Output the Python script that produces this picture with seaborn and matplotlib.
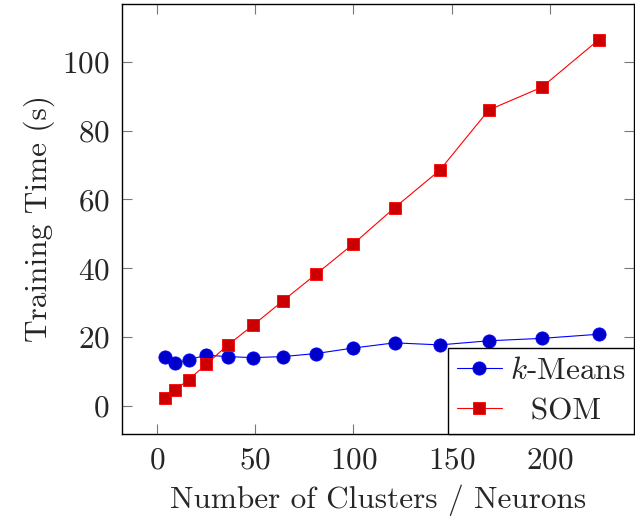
import matplotlib
matplotlib.use("Agg")
import matplotlib.pyplot as plt
import seaborn as sns
import pandas as pd
from matplotlib.ticker import MultipleLocator

# Data
n_clusters = [4, 9, 16, 25, 36, 49, 64, 81, 100, 121, 144, 169, 196, 225]
kmeans_time = [14.2, 12.4, 13.4, 14.7, 14.3, 14.0, 14.3, 15.2, 16.8, 18.3, 17.7, 18.9, 19.6, 20.8]
som_time = [2.2, 4.6, 7.6, 12.1, 17.7, 23.5, 30.5, 38.3, 47.1, 57.6, 68.5, 86.0, 92.6, 106.4]
series_labels = ["$k$-Means", "SOM"]
x_label = "Number of Clusters / Neurons"
y_label = "Training Time (s)"

sns.set_style("ticks")
plt.rcParams["font.family"] = ["cmr10", "DejaVu Serif"]
plt.rcParams["mathtext.fontset"] = "cm"
plt.rcParams["axes.formatter.use_mathtext"] = True

FS = 22.5

df_k = pd.DataFrame({"x": n_clusters, "y": kmeans_time})
df_s = pd.DataFrame({"x": n_clusters, "y": som_time})

fig = plt.figure(figsize=(6.35, 5.19), dpi=100)
ax = fig.add_axes([122 / 635, 1 - 434 / 519, (634 - 122) / 635, (434 - 4) / 519])

sns.lineplot(data=df_k, x="x", y="y", ax=ax, color="#0000ff", lw=0.8,
             marker="o", markersize=9.5, markerfacecolor="#0000cc",
             markeredgecolor="#0000ff", markeredgewidth=0.6, label=series_labels[0])
sns.lineplot(data=df_s, x="x", y="y", ax=ax, color="#ff0000", lw=0.8,
             marker="s", markersize=8.8, markerfacecolor="#cc0000",
             markeredgecolor="#ff0000", markeredgewidth=0.6, label=series_labels[1])

ax.set_xlim(-18, 243)
ax.set_ylim(-8.2, 116.8)
ax.xaxis.set_major_locator(MultipleLocator(50))
ax.yaxis.set_major_locator(MultipleLocator(20))
ax.tick_params(direction="in", length=7, width=0.8, color="#777777",
               top=True, right=True, labelsize=FS, pad=9)
for s in ax.spines.values():
    s.set_linewidth(1.0)
    s.set_color("black")

ax.set_xlabel(x_label, fontsize=FS, labelpad=7)
ax.set_ylabel(y_label, fontsize=FS, labelpad=5)

handles, _ = ax.get_legend_handles_labels()
leg = ax.legend(handles, [series_labels[0], "  " + series_labels[1]],
                loc="lower right", borderaxespad=0, fontsize=FS,
                frameon=True, fancybox=False, framealpha=1.0,
                handlelength=1.45, handletextpad=0.25,
                borderpad=0.28, labelspacing=0.4)
leg.get_frame().set_edgecolor("black")
leg.get_frame().set_linewidth(1.0)

fig.savefig("out.png", dpi=100)
